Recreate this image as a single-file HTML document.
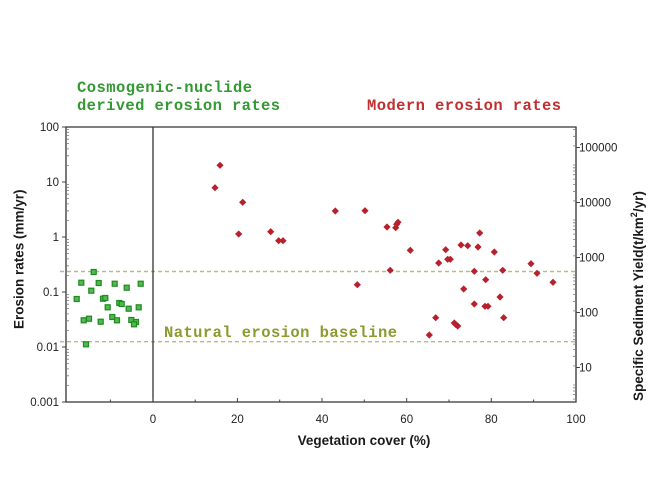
<!DOCTYPE html>
<html><head><meta charset="utf-8"><style>
html,body{margin:0;padding:0;background:#fff;}
svg{display:block;}
</style></head><body>
<svg width="650" height="487" viewBox="0 0 650 487" xmlns="http://www.w3.org/2000/svg">
<defs>
<marker id="dm" markerUnits="userSpaceOnUse" markerWidth="8" markerHeight="8" refX="4" refY="4" overflow="visible">
<path d="M4,0.4L7.6,4L4,7.6L0.4,4Z" fill="#b8202c"/>
</marker>
<marker id="sq" markerUnits="userSpaceOnUse" markerWidth="8" markerHeight="8" refX="4" refY="4" overflow="visible">
<rect x="1.5" y="1.5" width="5" height="5" fill="#52b852" stroke="#1f8a1f" stroke-width="1.2"/>
</marker>
<clipPath id="box"><rect x="0" y="127" width="650" height="275"/></clipPath>
</defs>
<rect width="650" height="487" fill="#fff"/>
<g font-family="'Liberation Mono','Courier New',monospace" font-weight="bold" font-size="15.5">
<text x="77" y="92" fill="#339933" textLength="175" lengthAdjust="spacing">Cosmogenic-nuclide</text>
<text x="77" y="110" fill="#339933" textLength="203" lengthAdjust="spacing">derived erosion rates</text>
<text x="367" y="110" fill="#c03030" textLength="194" lengthAdjust="spacing">Modern erosion rates</text>
<text x="164" y="337" fill="#8c9a2e" textLength="233" lengthAdjust="spacing">Natural erosion baseline</text>
</g>
<path stroke="#b9b98a" stroke-width="1.4" stroke-dasharray="4,3" d="M60 271.5H576M60 341.7H576"/>
<path stroke="#333" stroke-width="1.3" fill="none" d="M66 127V402H576V127ZM153 127V402"/>
<path stroke="#444" stroke-width="1" d="M62 127h4M62 182h4M62 237h4M62 292h4M62 347h4M62 402h4M576 147.5h4M576 202.5h4M576 257.5h4M576 312.5h4M576 367.5h4M153 402v-4M237.4 402v-4M322 402v-4M406.7 402v-4M491.3 402v-4M576 402v-4M110.4 402v-2.5M195.2 402v-2.5M279.7 402v-2.5M364.3 402v-2.5M449 402v-2.5M533.6 402v-2.5"/>
<g stroke="#777" stroke-width="0.8">
<path d="M66 129.5h3M66 132.3h3M66 135.5h3M66 139.2h3M66 143.6h3M66 148.9h3M66 155.8h3M66 165.4h3"/>
<path transform="translate(0,55)" d="M66 129.5h3M66 132.3h3M66 135.5h3M66 139.2h3M66 143.6h3M66 148.9h3M66 155.8h3M66 165.4h3"/>
<path transform="translate(0,110)" d="M66 129.5h3M66 132.3h3M66 135.5h3M66 139.2h3M66 143.6h3M66 148.9h3M66 155.8h3M66 165.4h3"/>
<path transform="translate(0,165)" d="M66 129.5h3M66 132.3h3M66 135.5h3M66 139.2h3M66 143.6h3M66 148.9h3M66 155.8h3M66 165.4h3"/>
<path transform="translate(0,220)" d="M66 129.5h3M66 132.3h3M66 135.5h3M66 139.2h3M66 143.6h3M66 148.9h3M66 155.8h3M66 165.4h3"/>
</g>
<g stroke="#777" stroke-width="0.8" clip-path="url(#box)">
<path transform="translate(507,-19.5)" d="M66 129.5h3M66 132.3h3M66 135.5h3M66 139.2h3M66 143.6h3M66 148.9h3M66 155.8h3M66 165.4h3"/>
<path transform="translate(507,35.5)" d="M66 129.5h3M66 132.3h3M66 135.5h3M66 139.2h3M66 143.6h3M66 148.9h3M66 155.8h3M66 165.4h3"/>
<path transform="translate(507,90.5)" d="M66 129.5h3M66 132.3h3M66 135.5h3M66 139.2h3M66 143.6h3M66 148.9h3M66 155.8h3M66 165.4h3"/>
<path transform="translate(507,145.5)" d="M66 129.5h3M66 132.3h3M66 135.5h3M66 139.2h3M66 143.6h3M66 148.9h3M66 155.8h3M66 165.4h3"/>
<path transform="translate(507,200.5)" d="M66 129.5h3M66 132.3h3M66 135.5h3M66 139.2h3M66 143.6h3M66 148.9h3M66 155.8h3M66 165.4h3"/>
<path transform="translate(507,255.5)" d="M66 129.5h3M66 132.3h3M66 135.5h3M66 139.2h3M66 143.6h3M66 148.9h3"/>
</g>
<g font-family="'Liberation Sans',Arial,sans-serif" font-size="11.5" fill="#222">
<g text-anchor="end">
<text x="59" y="131">100</text>
<text x="59" y="186">10</text>
<text x="59" y="241">1</text>
<text x="59" y="296">0.1</text>
<text x="59" y="351">0.01</text>
<text x="59" y="406">0.001</text>
</g>
<text x="579" y="151.5">100000</text>
<text x="579" y="206.5">10000</text>
<text x="579" y="261.5">1000</text>
<text x="579" y="316.5">100</text>
<text x="579" y="371.5">10</text>
<g text-anchor="middle">
<text x="153" y="423">0</text>
<text x="237.4" y="423">20</text>
<text x="322" y="423">40</text>
<text x="406.7" y="423">60</text>
<text x="491.3" y="423">80</text>
<text x="576" y="423">100</text>
</g>
</g>
<g font-family="'Liberation Sans',Arial,sans-serif" font-size="13.5" font-weight="bold" fill="#1a1a1a">
<text x="364" y="445" text-anchor="middle">Vegetation cover (%)</text>
<text transform="translate(23.5,329) rotate(-90)">Erosion rates (mm/yr)</text>
<text transform="translate(643,401) rotate(-90)">Specific Sediment Yield(t/km<tspan font-size="9" dy="-6">2</tspan><tspan dy="6">/yr)</tspan></text>
</g>
<path fill="none" stroke="none" marker-start="url(#sq)" marker-mid="url(#sq)" marker-end="url(#sq)"
d="M93.7 272L81.3 282.7 98.7 283 114.7 283.7 126.7 287.7 140.7 283.7 91.3 290.7 76.7 299 103 298.7 105.3 298 107.7 307.3 119.3 303 121.7 304 128.7 308.7 138.7 307.3 83.7 320.3 89 318.7 100.7 321.7 112.3 317 117 320.3 131.3 320 136 322 134 324.3 86 344.3"/>
<path fill="none" stroke="none" marker-start="url(#dm)" marker-mid="url(#dm)" marker-end="url(#dm)"
d="M220 165.3L215 187.7 242.7 202.3 238.7 234 270.7 231.7 278.7 240.7 283 240.7 335.3 211 365 210.7 387 227 395.7 227.7 396.7 224.3 398 222.3 390.2 270.3 357.3 284.7 410.3 250.3 445.7 249.7 438.7 263 447.7 259.3 450.3 259.3 461 245 467.7 245.7 479.7 233 478 247 494.3 252 474.3 271.3 485.7 279.7 502.7 270.3 531 263.7 537 273.3 553 282.3 463.7 289 474.3 304 485 306.3 488 306.3 500 297 503.7 317.7 435.7 317.7 454.3 323 456 324.7 457.7 326 429.3 335"/>
</svg>
</body></html>
